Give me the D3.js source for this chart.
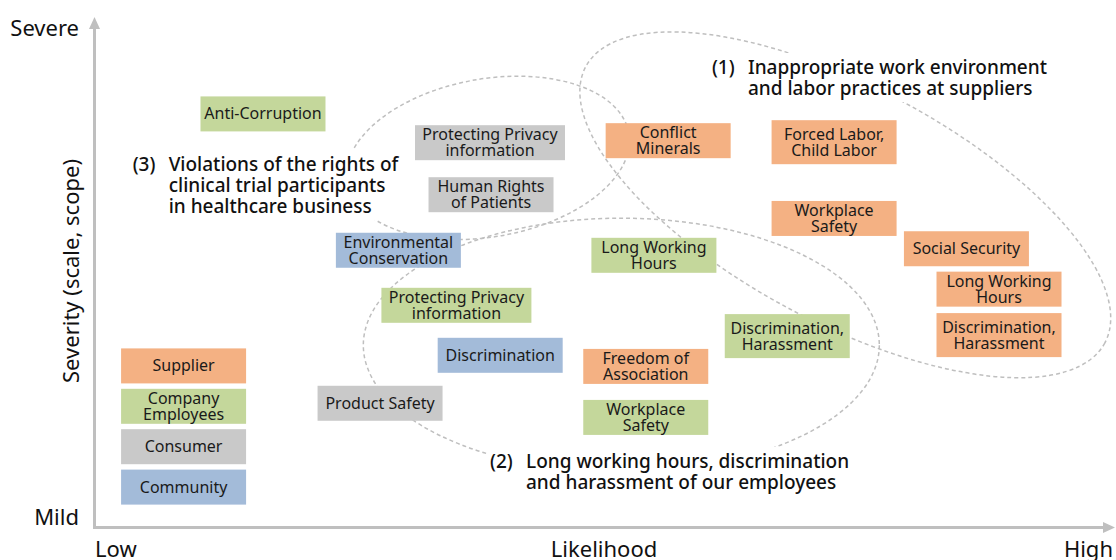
<!doctype html>
<html>
<head>
<meta charset="utf-8">
<style>
body { margin:0; background:#fff; }
svg text { font-family: "Noto Sans", sans-serif; }
.box text { font-size:16px; fill:#1a1a1a; }
.note text { font-size:19px; fill:#111; font-weight:500; }
.end { font-size:22px; fill:#111; }
</style>
<script src="https://d3js.org/d3.v7.min.js"></script>
</head>
<body>
<svg width="1116" height="560"></svg>
<script>
// stakeholder groups, used for colours and the legend
var groups = ["Supplier", "Company\nEmployees", "Consumer", "Community"];
var groupColors = ["#f4b183", "#c4d79b", "#c9c9c9", "#a3bbd9"];

// issues: likelihood (0-100) and severity (0-100)
var issueLabels = ["Anti-Corruption", "Protecting Privacy\ninformation", "Human Rights\nof Patients",
  "Conflict\nMinerals", "Environmental\nConservation", "Long Working\nHours", "Forced Labor,\nChild Labor",
  "Workplace\nSafety", "Social Security", "Long Working\nHours", "Discrimination,\nHarassment",
  "Discrimination,\nHarassment", "Protecting Privacy\ninformation", "Discrimination",
  "Freedom of\nAssociation", "Workplace\nSafety", "Product Safety"];
var issueGroup = [1, 2, 2, 0, 3, 1, 0, 0, 0, 0, 0, 1, 1, 3, 0, 1, 2];
var likelihood = [16.6, 38.9, 39.0, 56.4, 29.9, 55.0, 72.7, 72.7, 85.7, 88.9, 88.9, 68.1, 35.6, 39.9, 54.2, 54.2, 28.1];
var severity = [81.8, 76.1, 65.8, 76.5, 54.8, 53.8, 76.2, 61.1, 55.1, 47.1, 38.0, 37.8, 43.9, 34.0, 31.8, 21.7, 24.5];

// dashed rings around the key issue clusters
var rings = [
  {cx: 73.8, cy: 63.8, rx: 294, ry: 118, tilt: 28},
  {cx: 51.8, cy: 36.0, rx: 258, ry: 127, tilt: 0},
  {cx: 38.7, cy: 73.1, rx: 143, ry: 79, tilt: -10}
];
var notes = [
  {num: "(1)", lines: ["Inappropriate work environment", "and labor practices at suppliers"], at: [60.7, 89.7]},
  {num: "(2)", lines: ["Long working hours, discrimination", "and harassment of our employees"], at: [38.9, 11.7]},
  {num: "(3)", lines: ["Violations of the rights of", "clinical trial participants", "in healthcare business"], at: [3.8, 70.5]}
];

var svg = d3.select("svg");
var x = d3.scaleLinear().domain([0, 100]).range([94, 1112]);
var y = d3.scaleLinear().domain([0, 100]).range([527, 22]);
var color = d3.scaleOrdinal().domain(d3.range(groups.length)).range(groupColors);
var axisColor = "#bfbfbf";

// axes with arrow heads
var x0 = x(0) + 0.5, y0 = y(0) + 0.5;
svg.append("line").attr("x1", x0).attr("y1", y0 + 1.5).attr("x2", x0).attr("y2", 28)
   .attr("stroke", axisColor).attr("stroke-width", 3);
svg.append("path").attr("d", "M" + (x0 - 5.5) + ",29L" + x0 + ",17L" + (x0 + 5.5) + ",29Z").attr("fill", axisColor);
svg.append("line").attr("x1", x0 - 1.5).attr("y1", y0).attr("x2", 1104).attr("y2", y0)
   .attr("stroke", axisColor).attr("stroke-width", 3);
svg.append("path").attr("d", "M1103," + (y0 - 5.5) + "L1115," + y0 + "L1103," + (y0 + 5.5) + "Z").attr("fill", axisColor);

svg.append("text").attr("class", "end").attr("x", 79).attr("y", 36).attr("text-anchor", "end").text("Severe");
svg.append("text").attr("class", "end").attr("x", 79).attr("y", 525).attr("text-anchor", "end").text("Mild");
svg.append("text").attr("class", "end").attr("x", 95).attr("y", 557).text("Low");
svg.append("text").attr("class", "end").attr("x", 604).attr("y", 557).attr("text-anchor", "middle").text("Likelihood");
svg.append("text").attr("class", "end").attr("x", 1113).attr("y", 557).attr("text-anchor", "end").text("High");
svg.append("text").attr("class", "end").attr("text-anchor", "middle")
   .attr("transform", "translate(79,271) rotate(-90)").text("Severity (scale, scope)");

// rings
svg.selectAll(".ring").data(rings).enter().append("ellipse")
   .attr("class", "ring")
   .attr("cx", function(d) { return x(d.cx); })
   .attr("cy", function(d) { return y(d.cy); })
   .attr("rx", function(d) { return d.rx; })
   .attr("ry", function(d) { return d.ry; })
   .attr("transform", function(d) { return "rotate(" + d.tilt + "," + x(d.cx) + "," + y(d.cy) + ")"; })
   .attr("fill", "none").attr("stroke", axisColor).attr("stroke-width", 1.5).attr("stroke-dasharray", "4,3");

// notes with a white backing so the rings go behind them
notes.forEach(function(n) {
  var g = svg.append("g").attr("class", "note")
             .attr("transform", "translate(" + x(n.at[0]) + "," + y(n.at[1]) + ")");
  var bg = g.append("rect").attr("fill", "#fff");
  g.append("text").text(n.num);
  n.lines.forEach(function(t, i) {
    g.append("text").attr("x", 36).attr("y", i * 21).text(t);
  });
  var b = g.node().getBBox();
  bg.attr("x", b.x - 3).attr("y", b.y - 1).attr("width", b.width + 6).attr("height", b.height + 2);
});

function drawBox(parent, label, cx, cy, fill, fixedH) {
  var lines = label.split("\n");
  var g = parent.append("g").attr("class", "box");
  var rect = g.append("rect").attr("fill", fill);
  var t = g.append("text").attr("text-anchor", "middle");
  lines.forEach(function(s, i) {
    t.append("tspan").attr("x", cx).attr("y", cy + 5.5 + (i - (lines.length - 1) / 2) * 16).text(s);
  });
  var w = t.node().getBBox().width > 125 ? 150 : 125;
  var h = fixedH || (label.indexOf(",") >= 0 ? 44 : 35);
  rect.attr("x", cx - w / 2).attr("y", cy - h / 2).attr("width", w).attr("height", h);
}

var boxes = svg.append("g");
issueLabels.forEach(function(label, i) {
  drawBox(boxes, label, x(likelihood[i]), y(severity[i]), color(issueGroup[i]));
});

// legend
groups.forEach(function(label, i) {
  drawBox(boxes, label, x(8.8), y(31.9) + i * 40.4, color(i), 35);
});
</script>
</body>
</html>
